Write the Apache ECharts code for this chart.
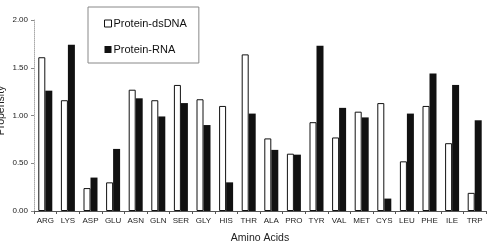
<!DOCTYPE html>
<html>
<head>
<meta charset="utf-8">
<script src="https://cdn.jsdelivr.net/npm/echarts@6/dist/echarts.min.js"></script>
<style>
  html, body { margin: 0; padding: 0; background: #fff; }
  #chart { width: 494px; height: 248px; }
</style>
</head>
<body>
<div id="chart"></div>
<script>
// amino acids on the x axis
var aminoAcids = ['ARG', 'LYS', 'ASP', 'GLU', 'ASN', 'GLN', 'SER', 'GLY', 'HIS', 'THR',
  'ALA', 'PRO', 'TYR', 'VAL', 'MET', 'CYS', 'LEU', 'PHE', 'ILE', 'TRP'];
// propensity values
var dsDNA = [1.61, 1.16, 0.24, 0.30, 1.27, 1.16, 1.32, 1.17, 1.10, 1.64,
  0.76, 0.60, 0.93, 0.77, 1.04, 1.13, 0.52, 1.10, 0.71, 0.19];
var rna = [1.26, 1.74, 0.35, 0.65, 1.18, 0.99, 1.13, 0.90, 0.30, 1.02,
  0.64, 0.59, 1.73, 1.08, 0.98, 0.13, 1.02, 1.44, 1.32, 0.95];

var font = 'Liberation Sans, Arial, sans-serif';

var option = {
  animation: false,
  backgroundColor: '#fff',
  textStyle: { fontFamily: font },
  grid: { left: 34, right: 8, top: 20, bottom: 37, outerBoundsMode: 'none', containLabel: false },
  legend: {
    orient: 'vertical',
    left: 88,
    top: 7,
    padding: [11, 12, 8, 16],
    itemGap: 15,
    itemWidth: 7,
    itemHeight: 7,
    icon: 'rect',
    borderColor: '#888',
    borderWidth: 1,
    textStyle: { fontSize: 11, color: '#111', fontFamily: font, padding: [0, 0, 0, -3] },
    data: [
      { name: 'Protein-dsDNA', itemStyle: { color: '#fff', borderColor: '#111', borderWidth: 1 } },
      { name: 'Protein-RNA', itemStyle: { color: '#111' } }
    ]
  },
  xAxis: {
    type: 'category',
    data: aminoAcids,
    name: 'Amino Acids',
    nameLocation: 'middle',
    nameGap: 22,
    nameTextStyle: { fontSize: 10.5, color: '#222' },
    axisLine: { lineStyle: { color: '#555', width: 1 } },
    axisTick: { show: true, length: 3, lineStyle: { color: '#555' } },
    axisLabel: { fontSize: 8, color: '#222', margin: 6, interval: 0 }
  },
  yAxis: {
    type: 'value',
    min: 0,
    max: 2,
    interval: 0.5,
    name: 'Propensity',
    nameLocation: 'middle',
    nameGap: 27,
    nameMoveOverlap: false,
    nameTextStyle: { fontSize: 10.5, color: '#222', padding: [0, 0, 0, 10] },
    axisLine: { show: true, lineStyle: { color: '#aaa', type: 'dotted', width: 1 } },
    axisTick: { show: true, length: 3, lineStyle: { color: '#888' } },
    splitLine: { show: false },
    axisLabel: {
      fontSize: 8, color: '#222', margin: 6,
      formatter: function (v) { return v.toFixed(2); }
    }
  },
  series: [
    {
      name: 'Protein-dsDNA',
      type: 'bar',
      data: dsDNA,
      barWidth: 7,
      barGap: '0%',
      itemStyle: { color: '#fff', borderColor: '#111', borderWidth: 1 }
    },
    {
      name: 'Protein-RNA',
      type: 'bar',
      data: rna,
      barWidth: 7,
      itemStyle: { color: '#111' }
    }
  ]
};

echarts.init(document.getElementById('chart')).setOption(option);
</script>
</body>
</html>
